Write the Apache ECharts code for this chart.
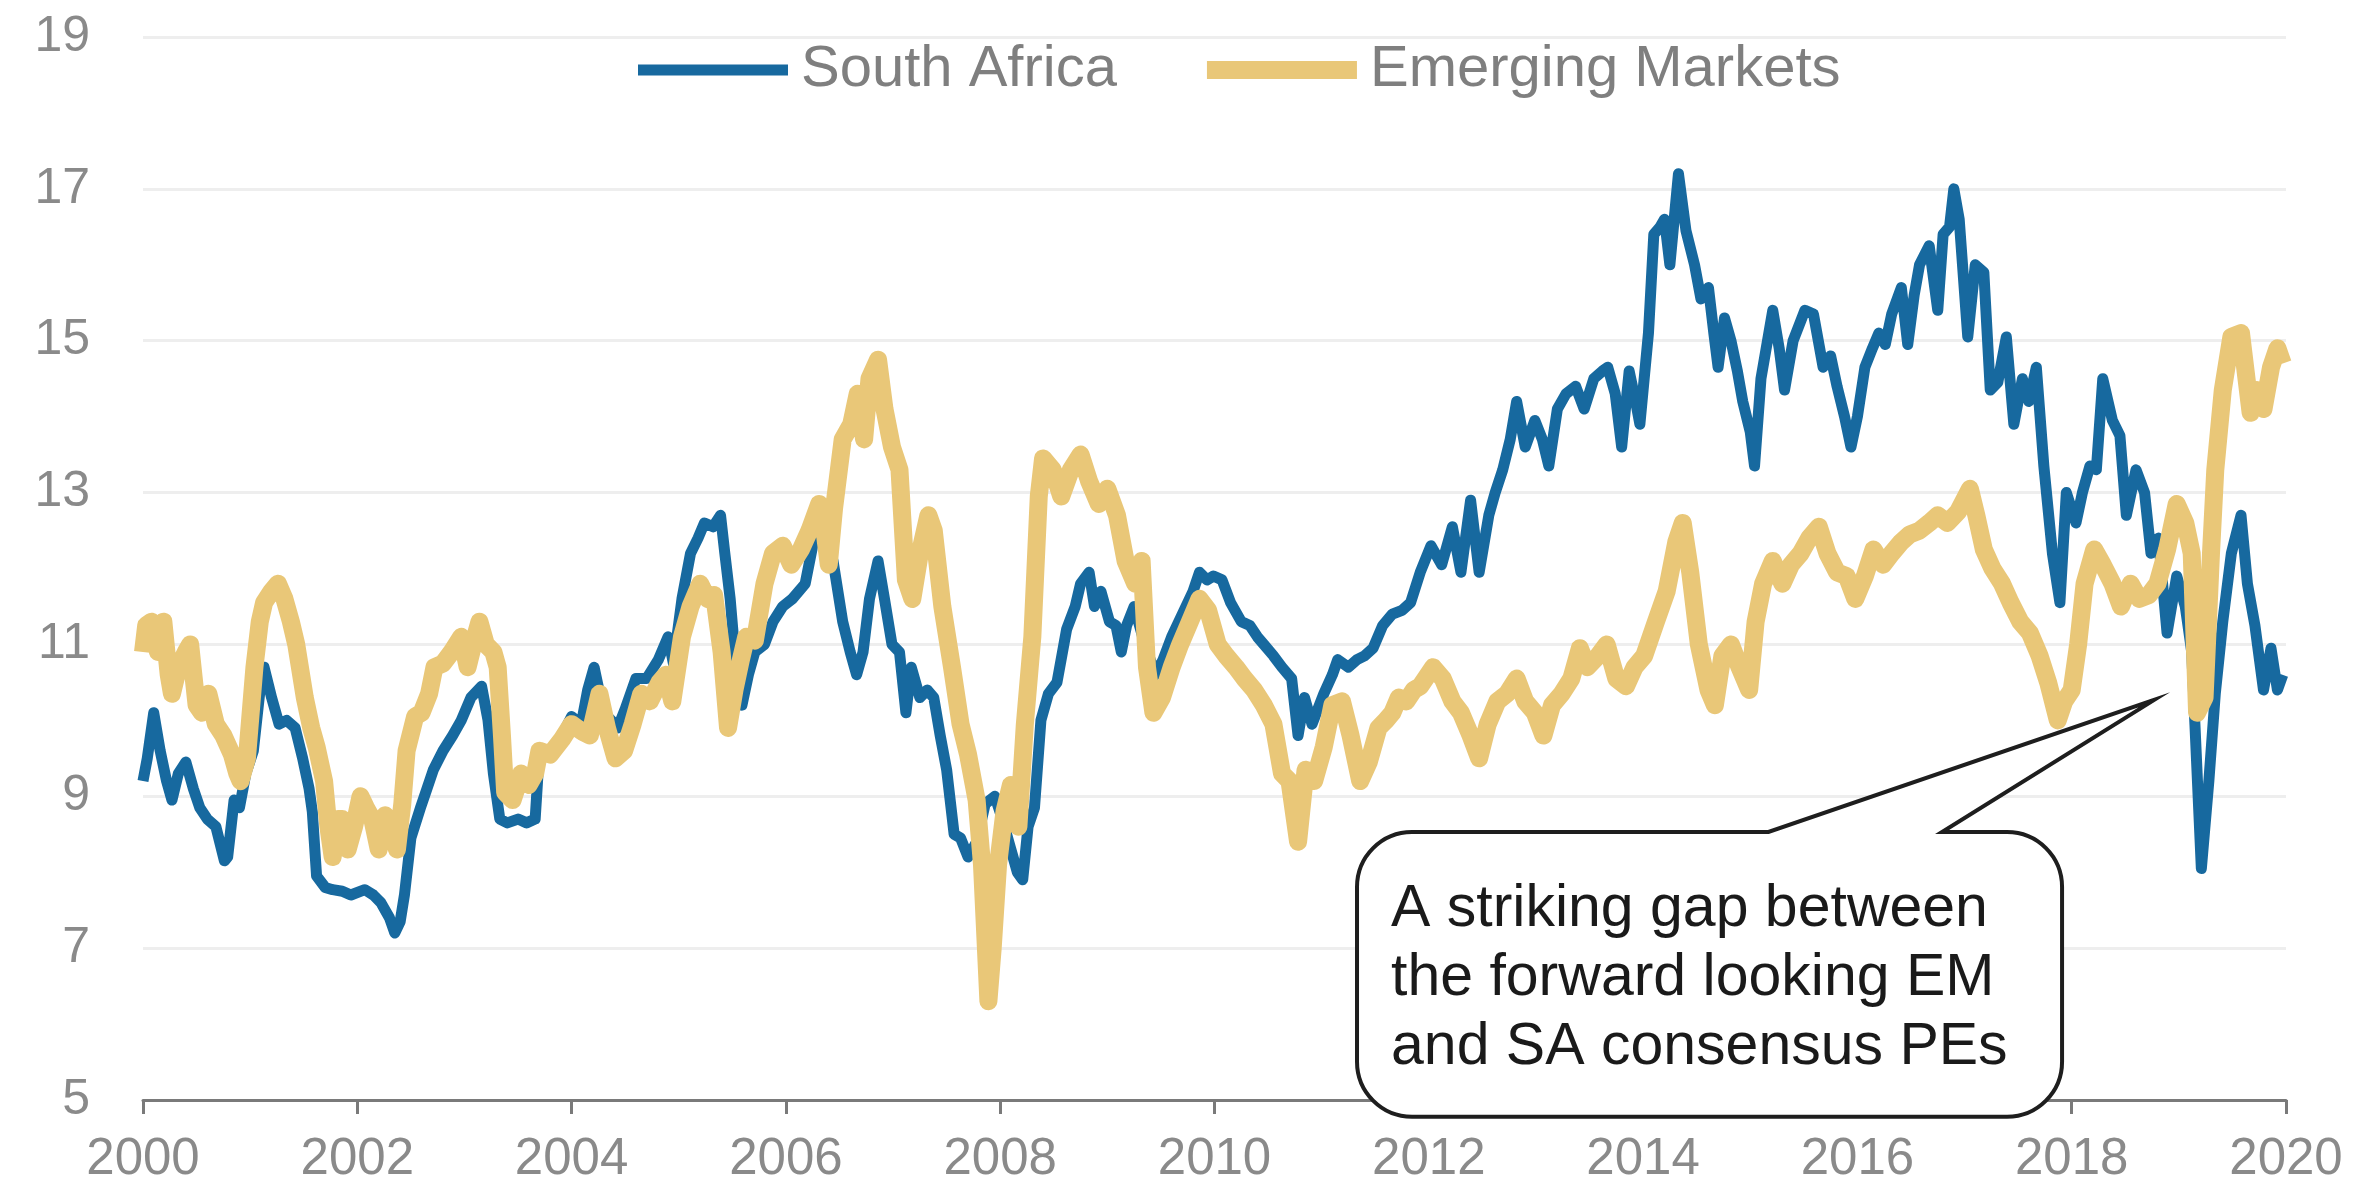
<!DOCTYPE html>
<html>
<head>
<meta charset="utf-8">
<title>South Africa vs Emerging Markets forward PE</title>
<script src="https://cdn.jsdelivr.net/npm/echarts@6/dist/echarts.min.js"></script>
<style>
  html, body { margin: 0; padding: 0; background: #ffffff; }
  #chart { width: 2361px; height: 1196px; }
</style>
</head>
<body>
<div id="chart"></div>
<script>
// Forward PE ratios, dates as decimal years
const saYears = [
  2000.00, 2000.04, 2000.10, 2000.16, 2000.22, 2000.27, 2000.33, 2000.40, 2000.47, 2000.53, 2000.60, 2000.68, 2000.76, 2000.79, 2000.85, 2000.90, 2000.96,
  2001.03, 2001.10, 2001.13, 2001.20, 2001.27, 2001.34, 2001.42, 2001.49, 2001.55, 2001.58, 2001.62, 2001.70, 2001.77, 2001.86, 2001.94,
  2002.07, 2002.15, 2002.22, 2002.30, 2002.35, 2002.40, 2002.44, 2002.50, 2002.59, 2002.65, 2002.71, 2002.80, 2002.89, 2002.97,
  2003.06, 2003.16, 2003.22, 2003.27, 2003.33, 2003.40, 2003.50, 2003.58, 2003.66, 2003.70, 2003.78, 2003.85, 2003.91,
  2004.00, 2004.09, 2004.15, 2004.21, 2004.30, 2004.37, 2004.43, 2004.50, 2004.60, 2004.70, 2004.81, 2004.90, 2004.95,
  2005.03, 2005.11, 2005.18, 2005.24, 2005.32, 2005.39, 2005.43, 2005.48, 2005.54, 2005.59, 2005.65, 2005.71, 2005.80, 2005.88, 2005.97,
  2006.06, 2006.18, 2006.25, 2006.31, 2006.37, 2006.44, 2006.53, 2006.60, 2006.66, 2006.72, 2006.78, 2006.86, 2006.92, 2006.99,
  2007.06, 2007.12, 2007.17, 2007.25, 2007.32, 2007.38, 2007.44, 2007.50, 2007.57, 2007.63, 2007.70, 2007.78, 2007.86, 2007.95,
  2008.02, 2008.10, 2008.16, 2008.21, 2008.26, 2008.32, 2008.38, 2008.45, 2008.53, 2008.62, 2008.70, 2008.75, 2008.83, 2008.88, 2008.94,
  2009.02, 2009.08, 2009.13, 2009.18, 2009.25, 2009.35, 2009.45, 2009.52, 2009.60, 2009.70, 2009.80, 2009.86, 2009.93, 2009.99,
  2010.07, 2010.15, 2010.25, 2010.33, 2010.40, 2010.46, 2010.55, 2010.63, 2010.72, 2010.78, 2010.84, 2010.91,
  2011.02, 2011.10, 2011.15, 2011.25, 2011.33, 2011.40, 2011.48, 2011.57, 2011.66, 2011.75, 2011.83, 2011.92,
  2012.02, 2012.12, 2012.22, 2012.30, 2012.39, 2012.47, 2012.56, 2012.62, 2012.69, 2012.76, 2012.82, 2012.90, 2012.99,
  2013.06, 2013.12, 2013.20, 2013.28, 2013.37, 2013.45, 2013.54, 2013.62, 2013.67, 2013.74, 2013.80, 2013.87, 2013.93, 2013.97,
  2014.05, 2014.10, 2014.16, 2014.20, 2014.25, 2014.33, 2014.40, 2014.48, 2014.54, 2014.61, 2014.66, 2014.70, 2014.76, 2014.82, 2014.88, 2014.93,
  2015.00, 2015.04, 2015.10, 2015.21, 2015.27, 2015.32, 2015.40, 2015.51, 2015.59, 2015.68, 2015.75, 2015.81, 2015.88, 2015.94,
  2016.00, 2016.07, 2016.14, 2016.20, 2016.26, 2016.32, 2016.41, 2016.47, 2016.53, 2016.58, 2016.67, 2016.75, 2016.80, 2016.86, 2016.90, 2016.95,
  2017.03, 2017.10, 2017.18, 2017.24, 2017.31, 2017.39, 2017.46, 2017.54, 2017.60, 2017.67, 2017.74, 2017.82, 2017.89, 2017.95,
  2018.04, 2018.10, 2018.17, 2018.23, 2018.29, 2018.38, 2018.45, 2018.51, 2018.60, 2018.68, 2018.74, 2018.81, 2018.89, 2018.98,
  2019.06, 2019.12, 2019.15, 2019.21, 2019.28, 2019.34, 2019.41, 2019.49, 2019.58, 2019.64, 2019.71, 2019.79, 2019.86, 2019.92, 2019.97
];
const saValues = [
  9.2, 9.5, 10.1, 9.6, 9.2, 8.95, 9.3, 9.45, 9.1, 8.85, 8.7, 8.6, 8.15, 8.2, 8.95, 8.85, 9.3,
  9.6, 10.5, 10.7, 10.3, 9.95, 10.0, 9.9, 9.5, 9.1, 8.8, 7.95, 7.8, 7.77, 7.75, 7.7,
  7.77, 7.7, 7.6, 7.4, 7.2, 7.35, 7.7, 8.45, 8.85, 9.1, 9.35, 9.6, 9.8, 10.0,
  10.3, 10.45, 10.0, 9.3, 8.7, 8.65, 8.7, 8.65, 8.7, 9.6, 9.55, 9.7, 9.8,
  10.05, 9.95, 10.4, 10.7, 10.1, 10.0, 9.9, 10.15, 10.55, 10.55, 10.8, 11.1, 10.75,
  11.6, 12.2, 12.4, 12.6, 12.55, 12.7, 12.2, 11.6, 10.6, 10.2, 10.6, 10.9, 11.0, 11.3, 11.5,
  11.6, 11.8, 12.3, 12.8, 12.4, 12.1, 11.3, 10.9, 10.6, 10.9, 11.6, 12.1, 11.6, 11.0,
  10.9, 10.1, 10.7, 10.3, 10.4, 10.3, 9.8, 9.35, 8.5, 8.45, 8.2, 8.4, 8.9, 9.0,
  8.7, 8.3, 8.0, 7.9, 8.6, 8.85, 10.0, 10.35, 10.5, 11.2, 11.5, 11.8, 11.95, 11.5, 11.7,
  11.3, 11.25, 10.9, 11.25, 11.5, 11.0, 10.6, 10.8, 11.1, 11.4, 11.7, 11.95, 11.85, 11.9,
  11.85, 11.55, 11.3, 11.25, 11.1, 11.0, 10.85, 10.7, 10.55, 9.8, 10.3, 9.95,
  10.35, 10.6, 10.8, 10.7, 10.8, 10.85, 10.95, 11.25, 11.4, 11.45, 11.55, 11.95,
  12.3, 12.05, 12.55, 11.95, 12.9, 11.95, 12.7, 13.0, 13.3, 13.7, 14.2, 13.6, 13.95,
  13.7, 13.35, 14.1, 14.3, 14.4, 14.1, 14.5, 14.6, 14.65, 14.3, 13.6, 14.6, 14.2, 13.9,
  15.1, 16.4, 16.5, 16.6, 16.0, 17.2, 16.45, 16.0, 15.55, 15.7, 15.1, 14.65, 15.3, 15.0, 14.6, 14.2,
  13.8, 13.35, 14.5, 15.4, 14.9, 14.35, 15.0, 15.4, 15.35, 14.65, 14.8, 14.4, 14.0, 13.6,
  14.0, 14.65, 14.9, 15.1, 14.95, 15.35, 15.7, 14.95, 15.6, 16.0, 16.25, 15.4, 16.4, 16.5, 17.0, 16.6,
  15.05, 16.0, 15.9, 14.35, 14.45, 15.05, 13.9, 14.5, 14.2, 14.65, 13.35, 12.2, 11.55, 13.0,
  12.6, 13.0, 13.35, 13.3, 14.5, 13.95, 13.75, 12.7, 13.3, 13.0, 12.2, 12.4, 11.15, 11.9,
  11.5, 10.9, 9.95, 8.05, 9.2, 10.35, 11.3, 12.2, 12.7, 11.8, 11.25, 10.4, 10.95, 10.4, 10.6
];

const emYears = [
  2000.00, 2000.03, 2000.08, 2000.14, 2000.19, 2000.24, 2000.27, 2000.33, 2000.40, 2000.44, 2000.50, 2000.55, 2000.61, 2000.68, 2000.75, 2000.83, 2000.88, 2000.91, 2000.97,
  2001.04, 2001.09, 2001.13, 2001.20, 2001.26, 2001.32, 2001.38, 2001.43, 2001.51, 2001.57, 2001.62, 2001.69, 2001.73, 2001.77, 2001.82, 2001.86, 2001.91, 2001.97,
  2002.03, 2002.08, 2002.14, 2002.20, 2002.26, 2002.32, 2002.37, 2002.42, 2002.46, 2002.54, 2002.60, 2002.67, 2002.72, 2002.80, 2002.88, 2002.97,
  2003.03, 2003.10, 2003.14, 2003.20, 2003.27, 2003.31, 2003.35, 2003.38, 2003.45, 2003.53, 2003.60, 2003.66, 2003.70, 2003.80, 2003.91,
  2004.00, 2004.10, 2004.17, 2004.26, 2004.33, 2004.41, 2004.49, 2004.57, 2004.65, 2004.73, 2004.82, 2004.88, 2004.94,
  2005.03, 2005.11, 2005.20, 2005.27, 2005.33, 2005.40, 2005.46, 2005.52, 2005.58, 2005.63, 2005.71, 2005.80, 2005.88, 2005.97,
  2006.05, 2006.14, 2006.22, 2006.31, 2006.36, 2006.40, 2006.45, 2006.53, 2006.61, 2006.67, 2006.73, 2006.78, 2006.86, 2006.92, 2006.99,
  2007.06, 2007.12, 2007.18, 2007.25, 2007.33, 2007.38, 2007.46, 2007.55, 2007.63, 2007.70, 2007.78, 2007.83, 2007.89, 2007.93, 2007.98,
  2008.04, 2008.10, 2008.17, 2008.23, 2008.30, 2008.36, 2008.40, 2008.49, 2008.57, 2008.66, 2008.75, 2008.83, 2008.92,
  2009.00, 2009.09, 2009.17, 2009.26, 2009.32, 2009.37, 2009.43, 2009.51, 2009.60, 2009.68, 2009.77, 2009.86, 2009.94,
  2010.03, 2010.11, 2010.20, 2010.28, 2010.37, 2010.46, 2010.55, 2010.63, 2010.70, 2010.78, 2010.85, 2010.93,
  2011.02, 2011.10, 2011.19, 2011.27, 2011.36, 2011.44, 2011.53, 2011.60, 2011.66, 2011.72, 2011.79, 2011.86, 2011.92,
  2012.04, 2012.13, 2012.22, 2012.30, 2012.39, 2012.47, 2012.55, 2012.64, 2012.73, 2012.82, 2012.90, 2012.99,
  2013.07, 2013.15, 2013.24, 2013.33, 2013.41, 2013.48, 2013.58, 2013.66, 2013.75, 2013.84, 2013.92,
  2014.01, 2014.12, 2014.22, 2014.31, 2014.37, 2014.44, 2014.52, 2014.61, 2014.67, 2014.74, 2014.82, 2014.90, 2014.99,
  2015.05, 2015.12, 2015.21, 2015.30, 2015.38, 2015.47, 2015.55, 2015.64, 2015.72, 2015.81, 2015.90, 2015.98,
  2016.07, 2016.15, 2016.24, 2016.32, 2016.41, 2016.49, 2016.58, 2016.67, 2016.75, 2016.84, 2016.94,
  2017.05, 2017.11, 2017.18, 2017.26, 2017.35, 2017.43, 2017.52, 2017.61, 2017.70, 2017.78, 2017.87, 2017.93,
  2018.00, 2018.06, 2018.12, 2018.21, 2018.29, 2018.38, 2018.46, 2018.55, 2018.63, 2018.72, 2018.80, 2018.89, 2018.98,
  2019.06, 2019.12, 2019.17, 2019.24, 2019.30, 2019.34, 2019.41, 2019.49, 2019.58, 2019.67, 2019.73, 2019.79, 2019.86, 2019.92, 2019.97
];
const emValues = [
  10.9, 11.25, 11.3, 10.9, 11.3, 10.6, 10.35, 10.7, 10.9, 11.0, 10.2, 10.1, 10.35, 9.95, 9.8, 9.55, 9.3, 9.2, 9.5,
  10.7, 11.3, 11.55, 11.7, 11.8, 11.6, 11.3, 11.0, 10.3, 9.9, 9.65, 9.2, 8.6, 8.2, 8.7, 8.7, 8.3, 8.6,
  9.0, 8.85, 8.7, 8.3, 8.75, 8.6, 8.3, 8.9, 9.6, 10.05, 10.1, 10.35, 10.7, 10.75, 10.9, 11.1,
  10.7, 11.1, 11.3, 11.0, 10.9, 10.7, 9.8, 9.05, 8.95, 9.3, 9.15, 9.3, 9.6, 9.55, 9.75,
  9.95, 9.85, 9.8, 10.35, 9.9, 9.5, 9.6, 9.95, 10.35, 10.25, 10.5, 10.6, 10.25,
  11.1, 11.5, 11.8, 11.6, 11.65, 10.9, 9.9, 10.4, 10.8, 11.1, 11.05, 11.8, 12.2, 12.3,
  12.05, 12.25, 12.5, 12.85, 12.5, 12.05, 12.8, 13.7, 13.9, 14.3, 13.7, 14.5, 14.75, 14.1, 13.6,
  13.3, 11.85, 11.6, 12.2, 12.7, 12.5, 11.5, 10.7, 9.95, 9.55, 8.95, 8.1, 6.3, 7.0, 8.1,
  8.8, 9.15, 8.6, 9.95, 11.1, 12.95, 13.45, 13.3, 12.95, 13.3, 13.5, 13.15, 12.85,
  13.05, 12.7, 12.1, 11.8, 12.1, 10.7, 10.1, 10.3, 10.7, 11.0, 11.3, 11.6, 11.45,
  11.0, 10.85, 10.7, 10.55, 10.4, 10.2, 9.95, 9.3, 9.2, 8.4, 9.35, 9.2,
  9.65, 10.2, 10.25, 9.8, 9.2, 9.45, 9.9, 10.0, 10.1, 10.3, 10.25, 10.4, 10.45,
  10.7, 10.55, 10.25, 10.1, 9.8, 9.5, 9.95, 10.25, 10.35, 10.55, 10.25, 10.1,
  9.8, 10.2, 10.35, 10.55, 10.95, 10.7, 10.85, 11.0, 10.55, 10.45, 10.7,
  10.85, 11.3, 11.7, 12.35, 12.6, 11.95, 11.0, 10.4, 10.2, 10.85, 11.0, 10.7, 10.4,
  11.3, 11.8, 12.1, 11.8, 12.05, 12.2, 12.4, 12.55, 12.2, 11.95, 11.9, 11.6,
  11.9, 12.25, 12.05, 12.2, 12.35, 12.45, 12.5, 12.6, 12.7, 12.6, 12.75,
  13.05, 12.7, 12.25, 12.0, 11.8, 11.55, 11.3, 11.15, 10.85, 10.5, 10.0, 10.25,
  10.4, 11.0, 11.8, 12.25, 12.05, 11.8, 11.5, 11.8, 11.6, 11.65, 11.8, 12.25, 12.85,
  12.6, 12.2, 10.1, 10.3, 12.2, 13.3, 14.35, 15.05, 15.1, 14.05, 14.35, 14.1, 14.65, 14.9, 14.7
];

const seriesNames = ['South Africa', 'Emerging Markets'];
const seriesColors = ['#17699f', '#e9c778'];
const calloutLines = [
  'A striking gap between',
  'the forward looking EM',
  'and SA consensus PEs'
];

// Callout placement in axis units (year, PE)
const calloutTip = [2018.77, 10.27];
const calloutBox = { x0: 2011.33, x1: 2017.91, yTop: 8.53, yBottom: 4.78 };
const calloutNeck = [2015.17, 2016.79];

const FONT = '"Liberation Sans", Arial, Helvetica, sans-serif';

function pairs(xs, ys) {
  return xs.map((x, i) => [x, ys[i]]);
}

// Rounded box with a wedge pointing from its top edge to a target point
const CalloutShape = echarts.graphic.extendShape({
  shape: { L: 0, T: 0, R: 0, B: 0, r: 0, n1: 0, n2: 0, tx: 0, ty: 0 },
  buildPath(ctx, s) {
    const { L, T, R, B, r } = s;
    ctx.moveTo(L + r, T);
    ctx.lineTo(s.n1, T);
    ctx.lineTo(s.tx, s.ty);
    ctx.lineTo(s.n2, T);
    ctx.lineTo(R - r, T);
    ctx.arc(R - r, T + r, r, -Math.PI / 2, 0, false);
    ctx.lineTo(R, B - r);
    ctx.arc(R - r, B - r, r, 0, Math.PI / 2, false);
    ctx.lineTo(L + r, B);
    ctx.arc(L + r, B - r, r, Math.PI / 2, Math.PI, false);
    ctx.lineTo(L, T + r);
    ctx.arc(L + r, T + r, r, Math.PI, Math.PI * 1.5, false);
    ctx.closePath();
  }
});
echarts.graphic.registerShape('callout', CalloutShape);

const chart = echarts.init(document.getElementById('chart'), null, { renderer: 'canvas' });

chart.setOption({
  animation: false,
  backgroundColor: '#ffffff',
  grid: { left: 143, right: 75, top: 37, bottom: 96 },
  legend: {
    left: 638,
    top: 41,
    padding: 0,
    itemGap: 90,
    itemWidth: 150,
    itemHeight: 18,
    textStyle: { fontSize: 58, color: '#7f7f7f', fontFamily: FONT, padding: [0, 0, 0, 8] },
    data: [
      { name: seriesNames[0], icon: 'path://M0,0H150V11H0Z' },
      { name: seriesNames[1], icon: 'path://M0,0H150V18H0Z' }
    ]
  },
  xAxis: {
    type: 'value',
    min: 2000,
    max: 2020,
    interval: 2,
    axisLine: { show: true, lineStyle: { color: '#7a7a7a', width: 3 } },
    axisTick: { show: true, length: 14, lineStyle: { color: '#7a7a7a', width: 3 } },
    axisLabel: {
      margin: 34,
      fontSize: 51,
      color: '#8a8a8a',
      fontFamily: FONT,
      formatter: v => String(v)
    },
    splitLine: { show: false }
  },
  yAxis: {
    type: 'value',
    min: 5,
    max: 19,
    interval: 2,
    axisLine: { show: false },
    axisTick: { show: false },
    axisLabel: { margin: 53, fontSize: 50, color: '#8a8a8a', fontFamily: FONT },
    splitLine: { lineStyle: { color: '#eeeeee', width: 3 } }
  },
  series: [
    {
      name: seriesNames[0],
      type: 'line',
      data: pairs(saYears, saValues),
      showSymbol: false,
      symbol: 'none',
      color: seriesColors[0],
      lineStyle: { color: seriesColors[0], width: 11, join: 'round' },
      z: 2
    },
    {
      name: seriesNames[1],
      type: 'line',
      data: pairs(emYears, emValues),
      showSymbol: false,
      symbol: 'none',
      color: seriesColors[1],
      lineStyle: { color: seriesColors[1], width: 18, join: 'round' },
      z: 3
    }
  ]
});

// Speech-bubble callout pointing at the 2019 divergence
function drawCallout() {
  const px = (x, y) => chart.convertToPixel({ gridIndex: 0 }, [x, y]);
  const tip = px(calloutTip[0], calloutTip[1]);
  const tl = px(calloutBox.x0, calloutBox.yTop);
  const br = px(calloutBox.x1, calloutBox.yBottom);
  const n1 = px(calloutNeck[0], calloutBox.yTop)[0];
  const n2 = px(calloutNeck[1], calloutBox.yTop)[0];
  const L = tl[0], T = tl[1], R = br[0], B = br[1];

  chart.setOption({
    graphic: [
      {
        type: 'callout',
        shape: { L, T, R, B, r: 55, n1, n2, tx: tip[0], ty: tip[1] },
        style: { fill: '#ffffff', stroke: '#1e1e1e', lineWidth: 4, lineJoin: 'miter' },
        z: 100
      },
      {
        type: 'text',
        x: L + 34,
        y: T + 43,
        style: {
          text: calloutLines.join('\n'),
          font: '59px ' + FONT,
          fill: '#1a1a1a',
          lineHeight: 69,
          verticalAlign: 'top',
          align: 'left'
        },
        z: 101
      }
    ]
  });
}

drawCallout();
</script>
</body>
</html>
